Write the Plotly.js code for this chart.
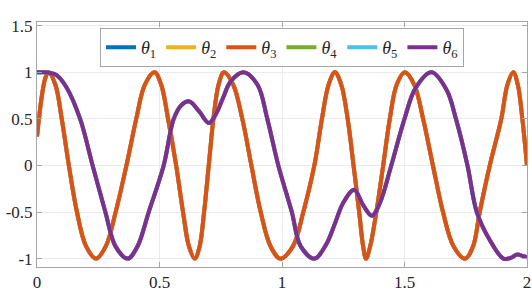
<!DOCTYPE html>
<html>
<head>
<meta charset="utf-8">
<script src="https://cdn.plot.ly/plotly-3.0.1.min.js"></script>
<style>html,body{margin:0;padding:0;background:#fff;}</style>
</head>
<body>
<div id="chart" style="width:532px;height:292px;"></div>
<script>
// Series A (θ1, θ2, θ3 coincide; θ3 drawn on top)
const xA = [0.000,0.010,0.020,0.033,0.047,
  0.075,0.101,0.130,0.163,0.200,0.241,
  0.281,0.321,0.365,0.405,0.440,0.480,
  0.507,0.535,0.568,0.596,0.620,0.644,
  0.664,0.682,0.701,0.720,0.741,0.763,
  0.801,0.838,0.875,0.913,0.953,0.993,
  1.045,1.087,1.132,1.163,1.190,1.216,
  1.242,1.268,1.292,1.315,1.331,1.343,
  1.360,1.385,1.413,1.440,1.468,1.501,
  1.540,1.576,1.616,1.657,1.700,1.747,
  1.780,1.807,1.848,1.895,1.920,1.944,
  1.963,1.981,2.000];
const yA = [0.31,0.55,0.75,0.93,1.00,
  0.866,0.5,0,-0.5,-0.866,-1,
  -0.866,-0.5,0,0.5,0.866,1,
  0.866,0.5,0,-0.5,-0.866,-1,
  -0.866,-0.5,0,0.5,0.866,1,
  0.866,0.5,0,-0.5,-0.866,-1,
  -0.866,-0.5,0,0.5,0.866,1,
  0.866,0.5,0,-0.5,-0.866,-1,
  -0.866,-0.5,0,0.5,0.866,1,
  0.866,0.5,0,-0.5,-0.866,-1,
  -0.866,-0.5,0,0.5,0.866,1,
  0.86,0.5,0.0];
// Series B (θ4, θ5, θ6 coincide; θ6 drawn on top)
const xB = [0.000,0.030,0.050,0.080,0.120,0.176,0.227,0.279,0.320,0.370,
  0.410,0.456,0.517,0.558,0.590,0.622,0.662,0.702,
  0.730,0.760,0.790,0.842,
  0.900,0.940,0.985,1.040,1.076,1.132,
  1.180,1.215,1.250,1.295,1.330,1.367,
  1.400,1.446,1.500,1.545,1.610,
  1.672,1.710,1.757,1.795,1.848,1.904,
  1.935,1.960,1.985,2.000];
const yB = [1.00,1.00,0.995,0.97,0.84,0.5,0,-0.5,-0.866,-1,
  -0.87,-0.5,0,0.5,0.65,0.687,0.58,0.455,
  0.55,0.73,0.9,1,
  0.866,0.5,0,-0.5,-0.866,-1,
  -0.85,-0.63,-0.4,-0.26,-0.42,-0.54,
  -0.4,0,0.5,0.83,1,
  0.81,0.5,0,-0.5,-0.8,-1,
  -0.99,-0.955,-0.975,-0.985];
const names = ['<i>θ</i><sub>1</sub>','<i>θ</i><sub>2</sub>','<i>θ</i><sub>3</sub>',
               '<i>θ</i><sub>4</sub>','<i>θ</i><sub>5</sub>','<i>θ</i><sub>6</sub>'];
const colors = ['#0072BD','#EDB120','#D95319','#77AC30','#4DBEEE','#7E2F8E'];
const seriesX = [xA,xA,xA,xB,xB,xB];
const seriesY = [yA,yA,yA,yB,yB,yB];
const xTicks = [0,0.5,1,1.5,2];
const xTickText = ['0','0.5','1','1.5','2'];
const yTicks = [-1,-0.5,0,0.5,1,1.5];
const yTickText = ['-1','-0.5','0','0.5','1','1.5'];

const FONT = 'Liberation Serif, Times New Roman, serif';
const traces = names.map((n,i)=>({
  x: seriesX[i], y: seriesY[i], name: n, type:'scatter', mode:'lines',
  line:{color:colors[i], width:4, shape:'spline', smoothing:1}
}));
const axisCommon = {
  showgrid:true, gridcolor:'#ebebeb', gridwidth:1,
  showline:true, linecolor:'#a6a6a6', linewidth:1, mirror:'ticks',
  ticks:'inside', ticklen:5, tickcolor:'#a6a6a6',
  zeroline:false,
  tickfont:{family:FONT, size:17, color:'#262626'}
};
const layout = {
  width:532, height:292,
  margin:{l:37, r:5, t:22, b:25},
  paper_bgcolor:'#fff', plot_bgcolor:'#fff',
  font:{family:FONT, color:'#262626'},
  showlegend:true,
  xaxis: Object.assign({}, axisCommon, {range:[0,2], tickvals:xTicks, ticktext:xTickText}),
  yaxis: Object.assign({}, axisCommon, {range:[-1.09,1.54], tickvals:yTicks, ticktext:yTickText}),
  legend:{orientation:'h', x:0.5, xanchor:'center', y:0.975, yanchor:'top',
    bgcolor:'#fff', bordercolor:'#a6a6a6', borderwidth:1,
    font:{family:FONT, size:18, color:'#262626'},
    itemwidth:30, tracegroupgap:0}
};
Plotly.newPlot('chart', traces, layout, {staticPlot:true, displayModeBar:false});
</script>
</body>
</html>
